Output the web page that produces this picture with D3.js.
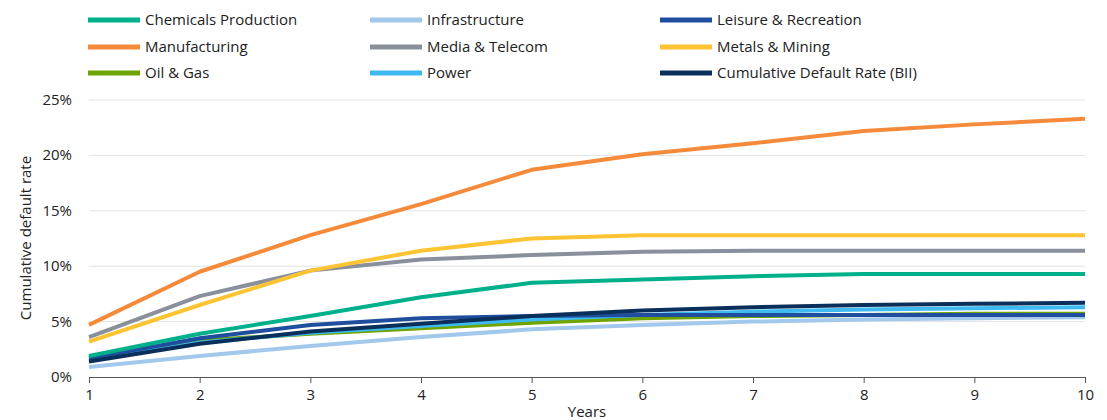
<!DOCTYPE html>
<html><head><meta charset="utf-8">
<script src="https://cdn.jsdelivr.net/npm/d3@7"></script>
<style>body{margin:0;background:#fff;font-family:"Open Sans",sans-serif;}</style>
</head><body>
<script>
var years = [1,2,3,4,5,6,7,8,9,10];
var seriesNames = ["Chemicals Production","Infrastructure","Leisure & Recreation","Manufacturing","Media & Telecom","Metals & Mining","Oil & Gas","Power","Cumulative Default Rate (BII)"];
var seriesColors = ["#00b08a","#a2c8ec","#1f4e9e","#f58b3a","#8a8f9c","#fcc433","#6fa300","#3fbaf0","#0b2f5b"];
var chemicals = [1.9,3.9,5.5,7.2,8.5,8.8,9.1,9.3,9.3,9.3];
var infrastructure = [0.9,1.9,2.8,3.6,4.3,4.7,5.0,5.2,5.3,5.4];
var leisure = [1.7,3.5,4.7,5.3,5.5,5.6,5.6,5.6,5.6,5.6];
var manufacturing = [4.7,9.5,12.8,15.6,18.7,20.1,21.1,22.2,22.8,23.3];
var media = [3.6,7.3,9.6,10.6,11.0,11.3,11.4,11.4,11.4,11.4];
var metals = [3.2,6.5,9.6,11.4,12.5,12.8,12.8,12.8,12.8,12.8];
var oilGas = [1.8,3.3,3.9,4.4,4.9,5.3,5.5,5.6,5.7,5.7];
var power = [1.5,3.1,4.0,4.6,5.2,5.6,5.9,6.1,6.2,6.3];
var bii = [1.4,3.0,4.1,4.8,5.5,6.0,6.3,6.5,6.6,6.7];
var yTicks = [0,5,10,15,20,25];
var allSeries = [chemicals,infrastructure,leisure,manufacturing,media,metals,oilGas,power,bii];
var drawOrder = [1,6,7,2,8,0,4,5,3];

var w = 1107, h = 420;
var svg = d3.select("body").append("svg").attr("width", w).attr("height", h);
var x = d3.scaleLinear().domain([1,10]).range([89,1085]);
var y = d3.scaleLinear().domain([0,25]).range([377,100]);

svg.selectAll(".grid").data(yTicks.slice(1)).enter().append("line")
  .attr("x1",89).attr("x2",1085).attr("y1",d=>y(d)).attr("y2",d=>y(d))
  .attr("stroke","#e3e3e3").attr("stroke-width",1);

svg.selectAll(".ylab").data(yTicks).enter().append("text")
  .attr("x",72).attr("y",d=>y(d)+5).attr("text-anchor","end")
  .attr("font-size",15).attr("fill","#222").text(d=>d+"%");

var xAxis = svg.append("g").attr("transform","translate(0,"+y(0)+")")
  .call(d3.axisBottom(x).tickValues(years).tickSize(6).tickFormat(d3.format("d")));
xAxis.select(".domain").attr("stroke","#555");
xAxis.selectAll("line").attr("stroke","#555");
xAxis.selectAll("text").attr("font-size",15).attr("fill","#222").attr("font-family","Open Sans").attr("dy","0.9em");

svg.append("text").attr("x",587).attr("y",417).attr("text-anchor","middle")
  .attr("font-size",15).attr("fill","#222").text("Years");
svg.append("text").attr("transform","translate(31,238) rotate(-90)").attr("text-anchor","middle")
  .attr("font-size",15).attr("fill","#222").text("Cumulative default rate");

var line = d3.line().x((d,i)=>x(years[i])).y(d=>y(d));
svg.selectAll(".series").data(drawOrder).enter().append("path")
  .attr("d",i=>line(allSeries[i])).attr("fill","none")
  .attr("stroke",i=>seriesColors[i]).attr("stroke-width",4).attr("stroke-linejoin","round");

var legCols = [88,370,660], legRows = [20,47,73];
var leg = svg.selectAll(".leg").data(seriesNames).enter().append("g")
  .attr("transform",(d,i)=>"translate("+legCols[i%3]+","+legRows[Math.floor(i/3)]+")");
leg.append("line").attr("x1",0).attr("x2",52).attr("stroke",(d,i)=>seriesColors[i]).attr("stroke-width",5);
leg.append("text").attr("x",57).attr("y",5).attr("font-size",15).attr("fill","#222").text(d=>d);
</script>
</body></html>
